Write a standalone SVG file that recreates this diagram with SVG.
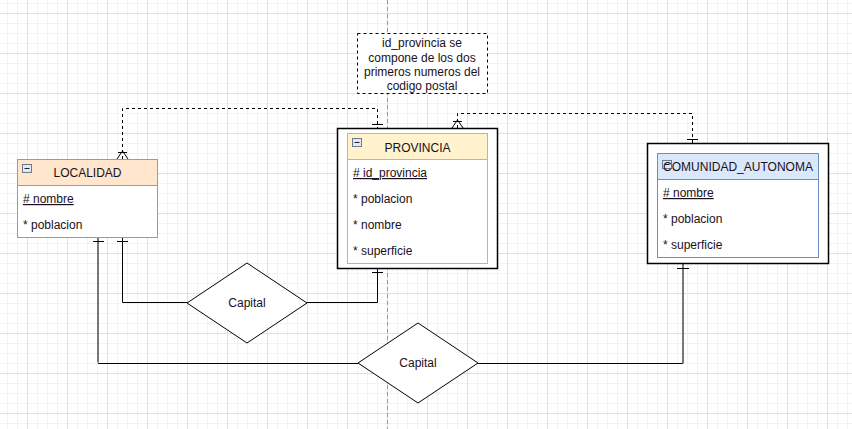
<svg xmlns="http://www.w3.org/2000/svg" width="852" height="429" viewBox="0 0 852 429">
<defs>
<pattern id="minor" x="7" y="3" width="10" height="10" patternUnits="userSpaceOnUse">
<path d="M0.5 0V10M0 0.5H10" stroke="#f2f2f2" stroke-width="1" fill="none"/>
</pattern>
<pattern id="major" x="27" y="13" width="40" height="40" patternUnits="userSpaceOnUse">
<path d="M0.5 0V40M0 0.5H40" stroke="#e0e0e0" stroke-width="1" fill="none"/>
</pattern>
<g id="minus">
<rect x="0.5" y="0.5" width="9" height="8" fill="#e4e8ef" stroke="#6b7a90"/>
<path d="M2.5 4.5H7.5" stroke="#222" stroke-width="1"/>
</g>
</defs>
<style>
text{font-family:"Liberation Sans",Arial,sans-serif;font-size:12px;fill:#1a1020}
.c{text-anchor:middle}
.u{text-decoration:underline}
.dash{fill:none;stroke:#000;stroke-width:1;stroke-dasharray:3 3}
.ln{fill:none;stroke:#000;stroke-width:1}
.gl{fill:none;stroke:#777;stroke-width:2}
.mk{fill:none;stroke:#000;stroke-width:1}
.outer{fill:#fff;stroke:#000;stroke-width:1.5}
.dia{fill:#fff;stroke:#000;stroke-width:1}
</style>
<rect width="852" height="429" fill="#fff"/>
<rect width="852" height="429" fill="url(#minor)"/>
<rect width="852" height="429" fill="url(#major)"/>
<path d="M387.5 0V429" stroke="#999" stroke-width="1" stroke-dasharray="4 3"/>

<g id="connectors">
<!-- LOCALIDAD - PROVINCIA dashed -->
<path class="dash" d="M122.5 159V108.5H377.5V128"/>
<path class="mk" d="M117 159L122.5 151L128 159M118 152.5H127"/>
<path class="mk" d="M372 124.5H383"/>
<!-- PROVINCIA - COMUNIDAD dashed -->
<path class="dash" d="M457.5 128V113.5H692.5V143"/>
<path class="mk" d="M452 128L457.5 120L463 128M453 121.5H462"/>
<path class="mk" d="M687 139.5H698"/>
<!-- Capital 1 -->
<path class="ln" d="M122.5 237V302.5H187"/>
<path class="mk" d="M117 241.5H128" stroke="#777"/>
<path class="ln" d="M307 302.5H377.5V268"/>
<path class="mk" d="M372 272.5H383"/>
<!-- Capital 2 -->
<path class="gl" d="M98 237V362.5"/>
<path class="ln" d="M98 363.5H358"/>
<path class="mk" d="M93 241.5H104"/>
<path class="ln" d="M478 363.5H683"/>
<path class="gl" d="M683 363.5V263"/>
<path class="mk" d="M677 268.5H689"/>
</g>

<g id="note">
<rect x="357.5" y="33.5" width="130" height="60" fill="#fff" stroke="#000" stroke-dasharray="3 3"/>
<text class="c" x="422" y="47">id_provincia se</text>
<text class="c" x="422" y="62">compone de los dos</text>
<text class="c" x="422" y="76">primeros numeros del</text>
<text class="c" x="422" y="90">codigo postal</text>
</g>

<g id="localidad">
<rect x="17.5" y="159.5" width="140" height="78" fill="#fff" stroke="#b0a080"/>
<rect x="17.5" y="159.5" width="140" height="26" fill="#ffe6cc" stroke="#d79b00"/>
<rect x="17.5" y="159.5" width="140" height="78" fill="none" stroke="#d79b00"/>
<use href="#minus" x="22" y="164"/>
<text class="c" x="87.5" y="177">LOCALIDAD</text>
<text class="u" x="23" y="203">#  nombre</text>
<text x="23" y="229">* poblacion</text>
</g>

<g id="provincia">
<rect class="outer" x="337.5" y="128.5" width="160" height="140"/>
<rect x="347.5" y="133.5" width="140" height="130" fill="#fff" stroke="#d6b656"/>
<rect x="347.5" y="133.5" width="140" height="26" fill="#fff2cc" stroke="#d6b656"/>
<use href="#minus" x="352" y="138"/>
<text class="c" x="417.5" y="152">PROVINCIA</text>
<text class="u" x="353" y="177">#  id_provincia</text>
<text x="353" y="203">* poblacion</text>
<text x="353" y="229">* nombre</text>
<text x="353" y="255">* superficie</text>
</g>

<g id="comunidad">
<rect class="outer" x="647.5" y="143.5" width="181" height="120"/>
<rect x="657.5" y="153.5" width="161" height="104" fill="#fff" stroke="#6c8ebf"/>
<rect x="657.5" y="153.5" width="161" height="26" fill="#dae8fc" stroke="#6c8ebf"/>
<use href="#minus" x="662" y="160"/>
<text class="c" x="738" y="171">COMUNIDAD_AUTONOMA</text>
<text class="u" x="663" y="197">#  nombre</text>
<text x="663" y="223">* poblacion</text>
<text x="663" y="249">* superficie</text>
</g>

<g id="capital1">
<path class="dia" d="M247 263L307 303L247 343L187 303Z"/>
<text class="c" x="247" y="307">Capital</text>
</g>

<g id="capital2">
<path class="dia" d="M418 323L478 363L418 403L358 363Z"/>
<text class="c" x="418" y="367">Capital</text>
</g>
</svg>
